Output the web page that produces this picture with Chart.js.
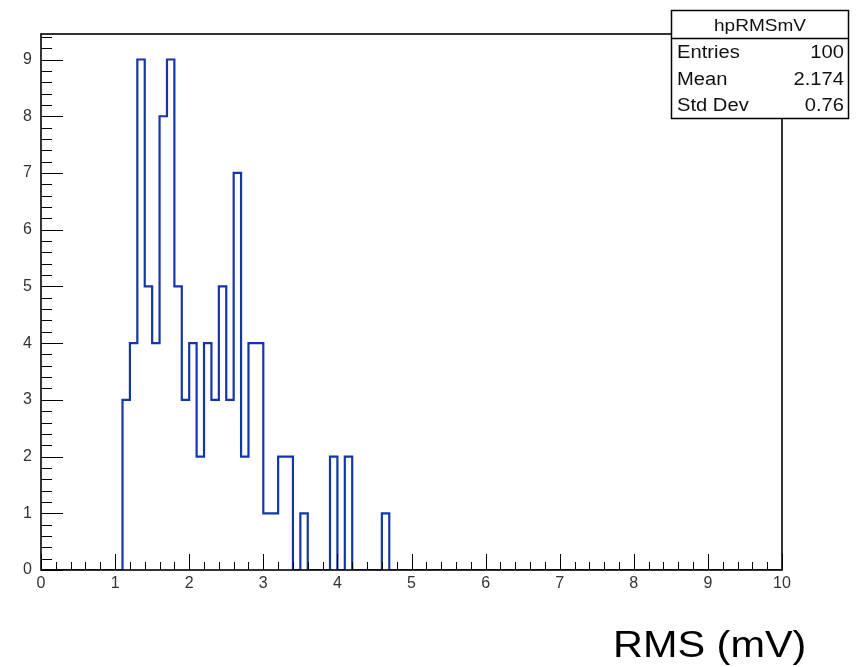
<!DOCTYPE html>
<html><head><meta charset="utf-8">
<script src="https://cdn.jsdelivr.net/npm/chart.js@4.4.0/dist/chart.umd.min.js"></script>
<style>html,body{margin:0;padding:0;background:#fff;overflow:hidden}#wrap{width:859px;height:667px;position:relative}</style>
</head><body><div id="wrap"><canvas id="c" width="859" height="667"></canvas></div>
<script>
// ---- data ----
const histName = 'hpRMSmV';
const xTitle = 'RMS (mV)';
const binLowEdges = [1.1,1.2,1.3,1.4,1.5,1.6,1.7,1.8,1.9,2.0,2.1,2.2,2.3,2.4,2.5,2.6,2.7,2.8,2.9,3.0,3.1,3.2,3.3,3.4,3.5,3.6,3.7,3.8,3.9,4.0,4.1,4.2,4.3,4.4,4.5,4.6];
const binCounts   = [3,  4,  9,  5,  4,  8,  9,  5,  3,  4,  2,  4,  3,  5,  3,  7,  2,  4,  4,  1,  1,  2,  2,  0,  1,  0,  0,  0,  2,  0,  2,  0,  0,  0,  0,  1];
const binWidth = 0.1;
const xMin = 0, xMax = 10;
const yMin = 0, yMax = 9.45;
const statsLabels = ['Entries', 'Mean', 'Std Dev'];
const statsValues = ['100', '2.174', '0.76'];

// ---- build histogram outline points ----
const pts = [{x: xMin, y: 0}];
binLowEdges.forEach((e, i) => pts.push({x: e, y: binCounts[i]}));
pts.push({x: binLowEdges[binLowEdges.length - 1] + binWidth, y: 0});
pts.push({x: xMax, y: 0});

const SX = 1.12; // horizontal text stretch
function sText(ctx, t, x, y, align) {
  ctx.save(); ctx.translate(x, y); ctx.scale(SX, 1);
  ctx.textAlign = align; ctx.fillText(t, 0, 0); ctx.restore();
}

const rootFrame = {
  id: 'rootFrame',
  afterDatasetsDraw(chart) {
    const ctx = chart.ctx, a = chart.chartArea;
    const xs = chart.scales.x, ys = chart.scales.y;
    ctx.save();
    ctx.strokeStyle = '#000';
    ctx.lineWidth = 1;
    ctx.beginPath();
    for (let k = 0; k <= 50; k++) {
      const v = xMin + k * 0.2;
      const px = Math.round(xs.getPixelForValue(v)) + 0.5;
      const len = (k % 5 === 0) ? 16 : 8;
      ctx.moveTo(px, a.bottom); ctx.lineTo(px, a.bottom - len);
    }
    for (let k = 0; k <= 47; k++) {
      const v = k * 0.2;
      if (v > yMax) break;
      const py = Math.round(ys.getPixelForValue(v)) + 0.5;
      const len = (k % 5 === 0) ? 22 : 11;
      ctx.moveTo(a.left, py); ctx.lineTo(a.left + len, py);
    }
    ctx.stroke();
    ctx.lineWidth = 1.6;
    ctx.strokeRect(a.left, a.top, a.right - a.left, a.bottom - a.top);
    ctx.restore();
  },
  afterDraw(chart) {
    const ctx = chart.ctx;
    ctx.save();
    const bx = 671.5, by = 10.5, bw = 177, bh = 108;
    ctx.fillStyle = '#fff';
    ctx.fillRect(bx, by, bw, bh);
    ctx.strokeStyle = '#000';
    ctx.lineWidth = 1.5;
    ctx.strokeRect(bx, by, bw, bh);
    ctx.beginPath(); ctx.moveTo(bx, 38.5); ctx.lineTo(bx + bw, 38.5); ctx.stroke();
    ctx.fillStyle = '#111';
    ctx.textBaseline = 'alphabetic';
    ctx.font = '17px "Liberation Sans", Arial, sans-serif';
    sText(ctx, histName, bx + bw / 2, 31, 'center');
    ctx.font = '18px "Liberation Sans", Arial, sans-serif';
    const rowY = [58, 85, 111];
    statsLabels.forEach((l, i) => {
      sText(ctx, l, 677, rowY[i], 'left');
      sText(ctx, statsValues[i], 844, rowY[i], 'right');
    });
    ctx.fillStyle = '#000';
    ctx.font = '37px "Liberation Sans", Arial, sans-serif';
    sText(ctx, xTitle, 613, 657, 'left');
    ctx.restore();
  }
};

new Chart(document.getElementById('c'), {
  type: 'line',
  data: {
    datasets: [{
      data: pts,
      stepped: 'before',
      borderColor: '#1536a6',
      borderWidth: 2.2,
      pointRadius: 0,
      fill: false,
      tension: 0
    }]
  },
  options: {
    responsive: false,
    animation: false,
    devicePixelRatio: 1,
    layout: {padding: {left: 0, top: 34, right: 77, bottom: 0}},
    plugins: {legend: {display: false}, tooltip: {enabled: false}, title: {display: false}},
    scales: {
      x: {
        type: 'linear', min: xMin, max: xMax,
        grid: {display: false, drawTicks: false},
        border: {display: false},
        ticks: {stepSize: 1, autoSkip: false, maxRotation: 0, includeBounds: false,
                font: {family: '"Liberation Sans", Arial, sans-serif', size: 16}, color: '#333', padding: 4},
        afterFit: s => { s.height = 97; }
      },
      y: {
        type: 'linear', min: yMin, max: yMax,
        grid: {display: false, drawTicks: false},
        border: {display: false},
        ticks: {stepSize: 1, includeBounds: false,
                font: {family: '"Liberation Sans", Arial, sans-serif', size: 16}, color: '#333', padding: 9},
        afterFit: s => { s.width = 41; }
      }
    }
  },
  plugins: [rootFrame]
});
</script>
</body></html>
